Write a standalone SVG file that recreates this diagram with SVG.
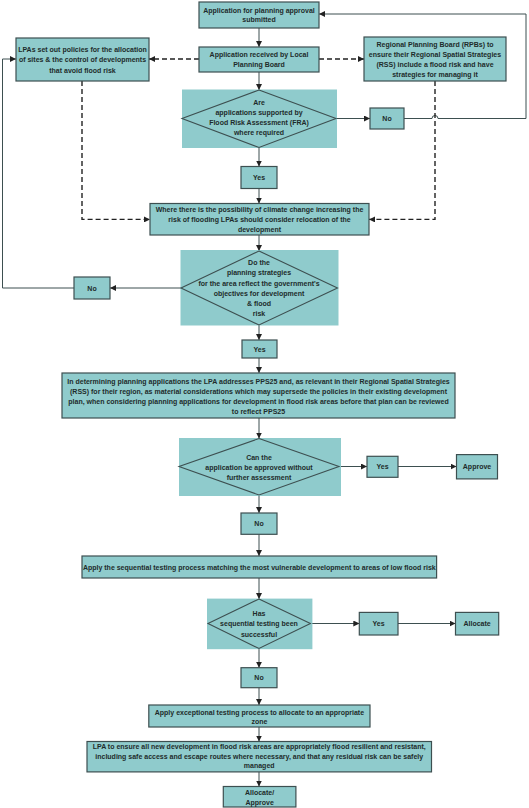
<svg xmlns="http://www.w3.org/2000/svg" width="529" height="808" viewBox="0 0 529 808">
<defs>
<style>
.box{fill:#8fcbcc;stroke:#3d4f50;stroke-width:1.2}
.shade{fill:#8fcbcc;stroke:none}
.dia{fill:#8fcbcc;stroke:#3d4f50;stroke-width:1.1}
text{font-family:"Liberation Sans",Arial,sans-serif;font-size:7px;font-weight:bold;fill:#1e2b2b;text-anchor:middle}
.ln{fill:none;stroke:#3d4f50;stroke-width:1}
.ds{fill:none;stroke:#222;stroke-width:1.4;stroke-dasharray:5,3}
</style>
<marker id="ah" viewBox="0 0 6 6" refX="6" refY="3" markerWidth="6" markerHeight="6" markerUnits="userSpaceOnUse" orient="auto">
<path d="M0,0 L6,3 L0,6 z" fill="#222"/>
</marker>
</defs>
<rect width="529" height="808" fill="#fff"/>

<g id="connectors">
<path class="ln" d="M259,28 V47" marker-end="url(#ah)"/>
<path class="ln" d="M259,72 V90" marker-end="url(#ah)"/>
<path class="ds" d="M199,59 H149" marker-end="url(#ah)"/>
<path class="ds" d="M319,59 H364" marker-end="url(#ah)"/>
<path class="ln" d="M336,118.5 H370" marker-end="url(#ah)"/>
<path class="ln" d="M404,118.5 H432 A3,3 0 0 1 438,118.5 H526 V14 H319" marker-end="url(#ah)"/>
<path class="ln" d="M259,147.5 V166.5" marker-end="url(#ah)"/>
<path class="ln" d="M259,188.5 V203.5" marker-end="url(#ah)"/>
<path class="ds" d="M82,81 V219.4 H150" marker-end="url(#ah)"/>
<path class="ds" d="M435,81 V219.4 H369" marker-end="url(#ah)"/>
<path class="ln" d="M259,235 V251" marker-end="url(#ah)"/>
<path class="ln" d="M181,288 H110" marker-end="url(#ah)"/>
<path class="ln" d="M74,288 H2.5 V59 H16" marker-end="url(#ah)"/>
<path class="ln" d="M259,325 V340" marker-end="url(#ah)"/>
<path class="ln" d="M259,358 V373" marker-end="url(#ah)"/>
<path class="ln" d="M259,418 V438.5" marker-end="url(#ah)"/>
<path class="ln" d="M339,466.5 H367" marker-end="url(#ah)"/>
<path class="ln" d="M398,466.5 H456.5" marker-end="url(#ah)"/>
<path class="ln" d="M259,495 V513" marker-end="url(#ah)"/>
<path class="ln" d="M259,534.3 V556" marker-end="url(#ah)"/>
<path class="ln" d="M259,578 V599" marker-end="url(#ah)"/>
<path class="ln" d="M310.4,623.5 H359.3" marker-end="url(#ah)"/>
<path class="ln" d="M398,623.5 H455.5" marker-end="url(#ah)"/>
<path class="ln" d="M259,648.5 V667.7" marker-end="url(#ah)"/>
<path class="ln" d="M259,687.7 V705" marker-end="url(#ah)"/>
<path class="ln" d="M259,727 V741.5" marker-end="url(#ah)"/>
<path class="ln" d="M259,772 V786.5" marker-end="url(#ah)"/>
</g>

<g id="submitted">
<rect class="box" x="199" y="2" width="120" height="26"/>
<text x="259" y="12.5">Application for planning approval</text>
<text x="259" y="22">submitted</text>
</g>
<g id="received">
<rect class="box" x="199" y="47" width="120" height="25"/>
<text x="259" y="56.5">Application received by Local</text>
<text x="259" y="66.5">Planning Board</text>
</g>
<g id="lpas">
<rect class="box" x="16" y="38" width="133" height="43"/>
<text x="82.5" y="51.5">LPAs set out policies for the allocation</text>
<text x="82.5" y="62.3">of sites &amp; the control of developments</text>
<text x="82.5" y="73">that avoid flood risk</text>
</g>
<g id="rpb">
<rect class="box" x="364" y="37" width="142" height="44"/>
<text x="435" y="46.8">Regional Planning Board (RPBs) to</text>
<text x="435" y="56.8">ensure their Regional Spatial Strategies</text>
<text x="435" y="66.8">(RSS) include a flood risk and have</text>
<text x="435" y="76.8">strategies for managing it</text>
</g>
<g id="decision-fra">
<rect class="shade" x="182" y="89.5" width="155" height="58.5"/>
<polygon class="dia" points="259,90 336,118.5 259,147.5 182,118.5"/>
<text x="259" y="105">Are</text>
<text x="259" y="115.2">applications supported by</text>
<text x="259" y="125.3">Flood Risk Assessment (FRA)</text>
<text x="259" y="135.4">where required</text>
</g>
<g id="no1">
<rect class="box" x="370" y="108" width="34" height="21"/>
<text x="387" y="121">No</text>
</g>
<g id="yes1">
<rect class="box" x="241" y="166.5" width="36" height="22"/>
<text x="259" y="180">Yes</text>
</g>
<g id="relocation">
<rect class="box" x="150" y="203.5" width="219" height="31.5"/>
<text x="259.5" y="211.7">Where there is the possibility of climate change increasing the</text>
<text x="259.5" y="221.9">risk of flooding LPAs should consider relocation of the</text>
<text x="259.5" y="232.1">development</text>
</g>
<g id="decision-strategies">
<rect class="shade" x="180.5" y="250" width="158" height="75.5"/>
<polygon class="dia" points="259,251 337.5,288 259,325 181,288"/>
<text x="259" y="265">Do the</text>
<text x="259" y="275.2">planning strategies</text>
<text x="259" y="285.6">for the area reflect the government's</text>
<text x="259" y="295.7">objectives for development</text>
<text x="259" y="305.9">&amp; flood</text>
<text x="259" y="315.6">risk</text>
</g>
<g id="no2">
<rect class="box" x="74" y="277" width="36" height="22"/>
<text x="92" y="290.5">No</text>
</g>
<g id="yes2">
<rect class="box" x="242" y="340" width="35" height="18"/>
<text x="259.5" y="351.5">Yes</text>
</g>
<g id="pps25">
<rect class="box" x="62" y="373" width="393" height="45"/>
<text x="258.5" y="384">In determining planning applications the LPA addresses PPS25 and, as relevant in their Regional Spatial Strategies</text>
<text x="258.5" y="394.2">(RSS) for their region, as material considerations which may supersede the policies in their existing development</text>
<text x="258.5" y="404.4">plan, when considering planning applications for development in flood risk areas before that plan can be reviewed</text>
<text x="258.5" y="414.1">to reflect PPS25</text>
</g>
<g id="decision-approve">
<rect class="shade" x="179" y="438" width="162" height="58"/>
<polygon class="dia" points="259,438.5 339,466.5 259,495 179,466.5"/>
<text x="259" y="459.5">Can the</text>
<text x="259" y="469.6">application be approved without</text>
<text x="259" y="479.7">further assessment</text>
</g>
<g id="yes3">
<rect class="box" x="367" y="456.3" width="31" height="21"/>
<text x="382.5" y="469.3">Yes</text>
</g>
<g id="approve">
<rect class="box" x="456.5" y="454.6" width="41" height="24.3"/>
<text x="477" y="469.3">Approve</text>
</g>
<g id="no3">
<rect class="box" x="241" y="513" width="36" height="21.3"/>
<text x="259" y="526.2">No</text>
</g>
<g id="sequential">
<rect class="box" x="82" y="556" width="354.6" height="22"/>
<text x="259.3" y="569.8">Apply the sequential testing process matching the most vulnerable development to areas of low flood risk</text>
</g>
<g id="decision-sequential">
<rect class="shade" x="207" y="598.6" width="105.4" height="50.6"/>
<polygon class="dia" points="259,599 310.4,623.5 259,648.5 208,623.5"/>
<text x="259" y="616">Has</text>
<text x="259" y="626.4">sequential testing been</text>
<text x="259" y="636.5">successful</text>
</g>
<g id="yes4">
<rect class="box" x="359.3" y="612.4" width="38.7" height="22.6"/>
<text x="378.6" y="626.2">Yes</text>
</g>
<g id="allocate">
<rect class="box" x="455.5" y="612.4" width="43.2" height="22.6"/>
<text x="477.1" y="626.2">Allocate</text>
</g>
<g id="no4">
<rect class="box" x="241" y="667.7" width="36" height="20"/>
<text x="259" y="680.2">No</text>
</g>
<g id="exceptional">
<rect class="box" x="148.8" y="705" width="221.2" height="22"/>
<text x="259.4" y="714.7">Apply exceptional testing process to allocate to an appropriate</text>
<text x="259.4" y="724.1">zone</text>
</g>
<g id="resilience">
<rect class="box" x="87" y="741.5" width="344.5" height="30.4"/>
<text x="259.2" y="749.4">LPA to ensure all new development in flood risk areas are appropriately flood resilient and resistant,</text>
<text x="259.2" y="758.9">including safe access and escape routes where necessary, and that any residual risk can be safely</text>
<text x="259.2" y="768.3">managed</text>
</g>
<g id="allocate-approve">
<rect class="box" x="223.3" y="786.5" width="72.6" height="20.5"/>
<text x="259.6" y="794.7">Allocate/</text>
<text x="259.6" y="804.6">Approve</text>
</g>
</svg>
